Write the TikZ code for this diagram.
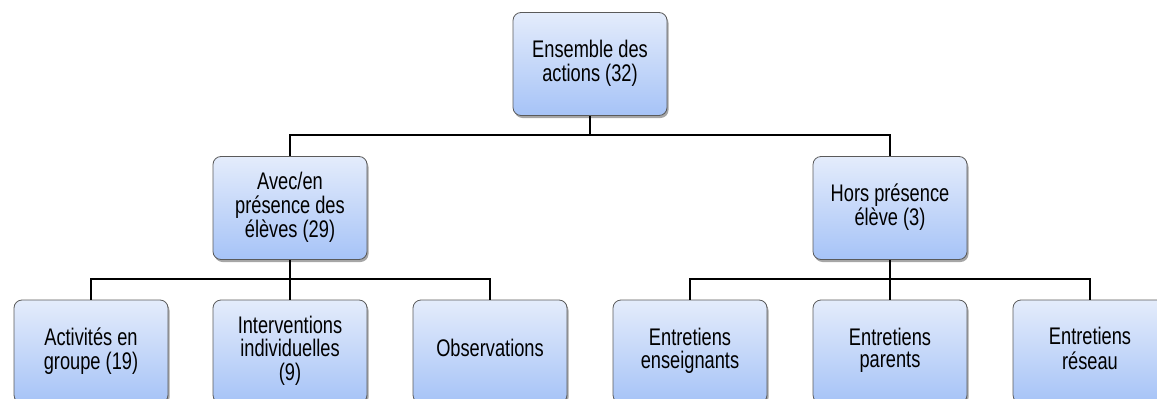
\documentclass[tikz,border=0pt]{standalone}
\usepackage{fontspec}
\usepackage{graphicx}
\setmainfont{Liberation Sans}
\usetikzlibrary{shadows}
\definecolor{boxtop}{HTML}{E4ECFB}
\definecolor{boxbot}{HTML}{A6C3F7}
\definecolor{boxborder}{HTML}{5A5A5A}
\newcommand{\narrowtext}[1]{\scalebox{0.76}[1]{\begin{tabular}{@{}c@{}}#1\end{tabular}}}
\tikzset{
  box/.style={rectangle, rounded corners=8pt, draw=boxborder, line width=0.8pt,
    top color=boxtop, bottom color=boxbot, minimum width=154pt, minimum height=103pt,
    inner sep=0pt,
    font=\fontsize{24pt}{21.5pt}\selectfont,
    drop shadow={shadow xshift=1.5pt, shadow yshift=-2.5pt, opacity=0.35, fill=black}},
  conn/.style={draw=black, line width=1.1pt}
}
\begin{document}
\begin{tikzpicture}[x=1pt,y=-1pt]
\useasboundingbox (0,0) rectangle (1157,399);
\clip (0,0) rectangle (1157,399);
\node[box] (root) at (590,64) {\narrowtext{Ensemble des\\actions (32)}};
\node[box] (avec) at (290,208) {\narrowtext{Avec/en\\présence des\\élèves (29)}};
\node[box] (hors) at (890,208) {\narrowtext{Hors présence\\élève (3)}};
\node[box] (act) at (91,351.5) {\narrowtext{Activités en\\groupe (19)}};
\node[box] (int) at (290,351.5) {\narrowtext{Interventions\\individuelles\\(9)}};
\node[box] (obs) at (490,351.5) {\narrowtext{Observations}};
\node[box] (ens) at (690,351.5) {\narrowtext{Entretiens\\enseignants}};
\node[box] (par) at (890,351.5) {\narrowtext{Entretiens\\parents}};
\node[box] (res) at (1090,351.5) {\narrowtext{Entretiens\\réseau}};
\coordinate (b1) at (590,135);
\coordinate (b2) at (290,279);
\coordinate (b3) at (890,279);
\draw[conn] (root.south) -- (b1);
\draw[conn] (avec.north) |- (b1) -| (hors.north);
\draw[conn] (avec.south) -- (b2);
\draw[conn] (act.north) |- (b2) -| (obs.north);
\draw[conn] (int.north) -- (b2);
\draw[conn] (hors.south) -- (b3);
\draw[conn] (ens.north) |- (b3) -| (res.north);
\draw[conn] (par.north) -- (b3);
\end{tikzpicture}
\end{document}
